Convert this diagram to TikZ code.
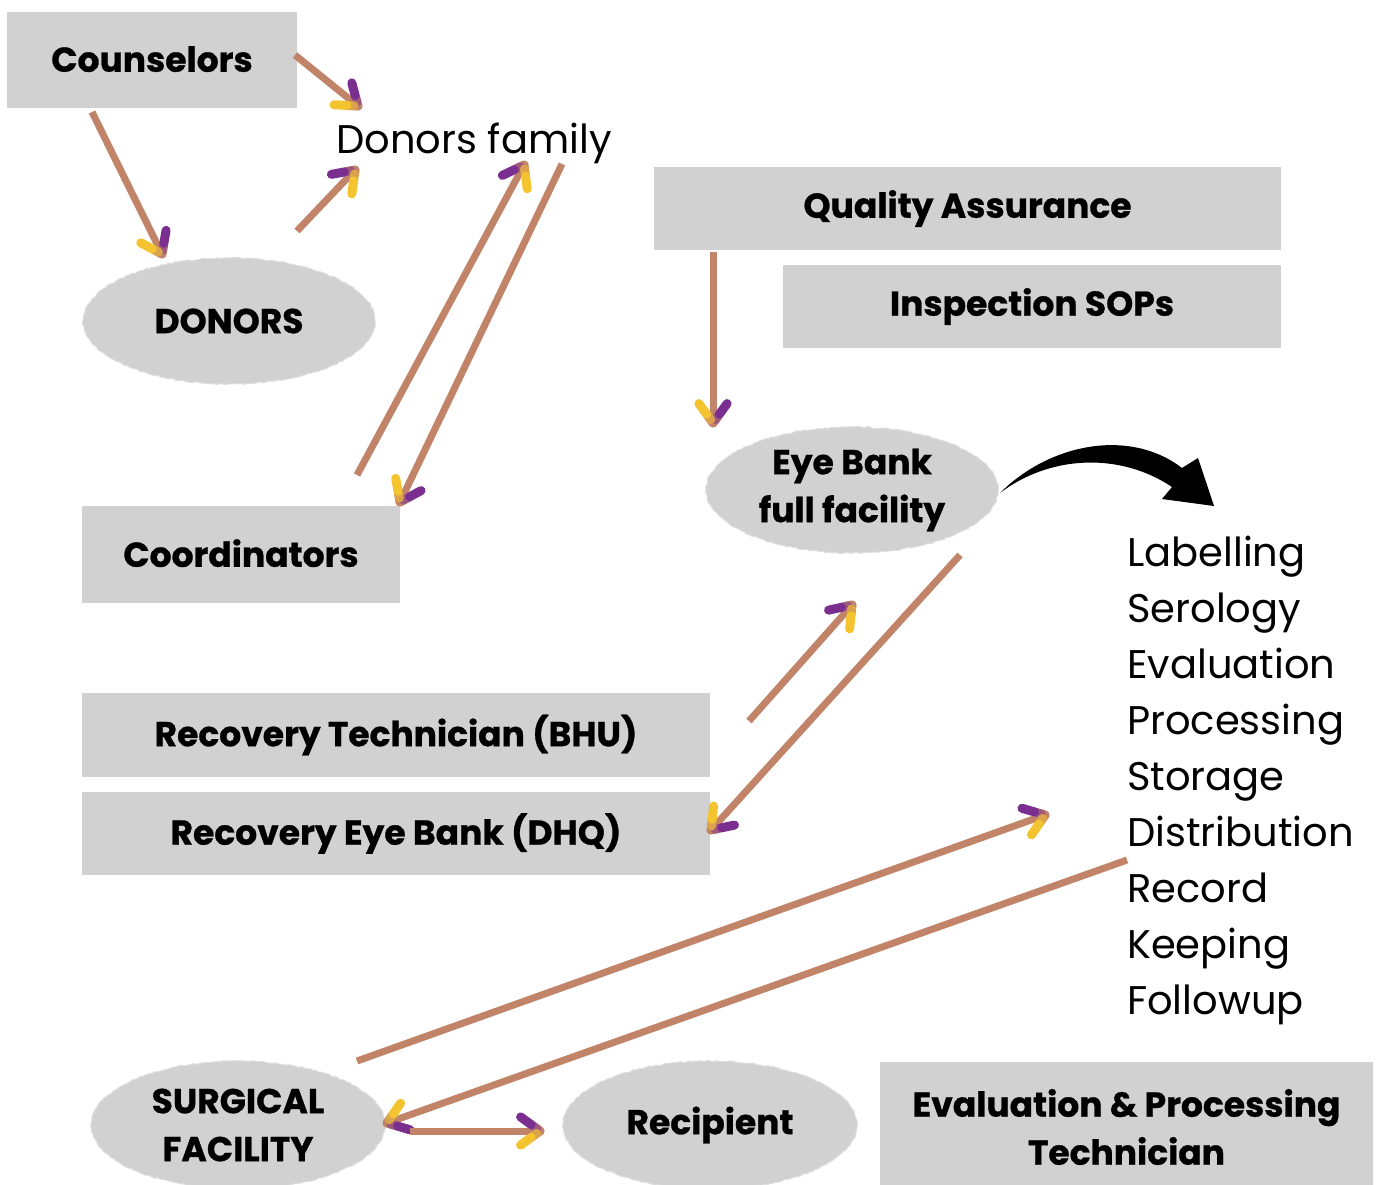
\documentclass[tikz,border=0pt]{standalone}
\usepackage{fontspec}
\setmainfont{Poppins}
\newfontfamily\heavyfont{Poppins Bold}[FakeBold=0.8]
\usetikzlibrary{calc,shapes.geometric,decorations.pathmorphing}
\definecolor{boxgray}{HTML}{D1D1D1}
\definecolor{shaftc}{HTML}{C28468}
\definecolor{purp}{HTML}{7A2E90}
\definecolor{yell}{HTML}{F4C430}
\newcommand\boxfont{\heavyfont\fontsize{34.5}{48}\selectfont}
\newcommand\plainfont{\fontsize{40}{56.1}\selectfont}
\tikzset{
  box/.style={fill=boxgray, inner sep=0pt, font=\boxfont, align=center},
  oval/.style={ellipse, fill=boxgray, inner sep=0pt, font=\boxfont, align=center,
    draw=boxgray!70!white, line width=1pt, decorate,
    decoration={random steps, segment length=3pt, amplitude=0.7pt}},
  shaft/.style={line width=7pt, color=shaftc},
  barb/.style={line width=9pt, line cap=round},
}
\newcommand\garr[2]{%
  \draw[shaft] (#1) -- ($(#2)!3pt!(#1)$);
  \draw[barb, shaftc] (#2) -- ($(#2)!4pt!-36:(#1)$);
  \draw[barb, shaftc] (#2) -- ($(#2)!4pt!36:(#1)$);
  \draw[barb, purp!50!shaftc] ($(#2)!4pt!-36:(#1)$) -- ($(#2)!10pt!-36:(#1)$);
  \draw[barb, purp] ($(#2)!11pt!-36:(#1)$) -- ($(#2)!24pt!-36:(#1)$);
  \draw[barb, yell!50!shaftc] ($(#2)!4pt!36:(#1)$) -- ($(#2)!10pt!36:(#1)$);
  \draw[barb, yell] ($(#2)!11pt!36:(#1)$) -- ($(#2)!24pt!36:(#1)$);
}
\begin{document}
\begin{tikzpicture}[x=1pt,y=-1pt]
\useasboundingbox (0,0) rectangle (1376,1184);
% boxes
\node[box, minimum width=290, minimum height=96] (couns) at (152,60) {\raisebox{2pt}{Counselors}};
\node[box, minimum width=627, minimum height=83] (qa) at (967.5,208.5) {Quality Assurance};
\node[box, minimum width=498, minimum height=83] (sop) at (1032,306.5) {Inspection SOPs};
\node[box, minimum width=318, minimum height=97] (coord) at (241,554.5) {\raisebox{3pt}{Coordinators}};
\node[box, minimum width=628, minimum height=84] (rt) at (396,735) {Recovery Technician (BHU)};
\node[box, minimum width=628, minimum height=83] (reb) at (396,833.5) {Recovery Eye Bank (DHQ)};
\node[box, minimum width=493, minimum height=130] (evt) at (1126.5,1127) {Evaluation \& Processing\\Technician};
% ellipses
\node[oval, minimum width=292, minimum height=126] (donors) at (229,321) {DONORS};
\node[oval, minimum width=292, minimum height=126] (eyebank) at (852,490) {Eye Bank\\full facility};
\node[oval, minimum width=294, minimum height=128] (surg) at (238,1125) {SURGICAL\\FACILITY};
\node[oval, minimum width=294, minimum height=128] (recip) at (710,1125) {Recipient};
% plain texts
\node[font=\plainfont, inner sep=0pt] (fam) at (474,143) {Donors family};
\node[font=\plainfont, inner sep=0pt, anchor=west, align=left] (list) at (1127,780.5)
  {Labelling\\Serology\\Evaluation\\Processing\\Storage\\Distribution\\Record\\Keeping\\Followup};
% connector end points
\coordinate (a1s) at (295,55);   \coordinate (a1e) at (358,106);
\coordinate (a2s) at (92,112);   \coordinate (a2e) at (162,254);
\coordinate (a3s) at (297,231);  \coordinate (a3e) at (355,170);
\coordinate (a4s) at (357,475);  \coordinate (a4e) at (524,165);
\coordinate (a5s) at (562,164);  \coordinate (a5e) at (400,502);
\coordinate (a6s) at (713,252);  \coordinate (a6e) at (713,423);
\coordinate (a7s) at (749,721);  \coordinate (a7e) at (852,605);
\coordinate (a8s) at (960,555);  \coordinate (a8e) at (711,830);
\coordinate (a9s) at (357,1061); \coordinate (a9e) at (1045,815);
\coordinate (a10s) at (1127,860); \coordinate (a10e) at (387,1123);
\coordinate (a11s) at (410,1131); \coordinate (a11e) at (540,1131);
\garr{a1s}{a1e}
\garr{a2s}{a2e}
\garr{a3s}{a3e}
\garr{a4s}{a4e}
\garr{a5s}{a5e}
\garr{a6s}{a6e}
\garr{a7s}{a7e}
\garr{a8s}{a8e}
\garr{a9s}{a9e}
\garr{a10s}{a10e}
\garr{a11s}{a11e}
% black curved arrow
\coordinate (b0) at (1000,493);
\coordinate (b1) at (1182,468);
\coordinate (b2) at (1198,458);
\coordinate (b3) at (1214,506);
\coordinate (b4) at (1162,499);
\coordinate (b5) at (1172,487);
\fill[black] (b0) .. controls (1050,443) and (1130,428) .. (b1) -- (b2) -- (b3) -- (b4) -- (b5)
  .. controls (1120,452) and (1050,455) .. (b0) -- cycle;
\end{tikzpicture}
\end{document}
